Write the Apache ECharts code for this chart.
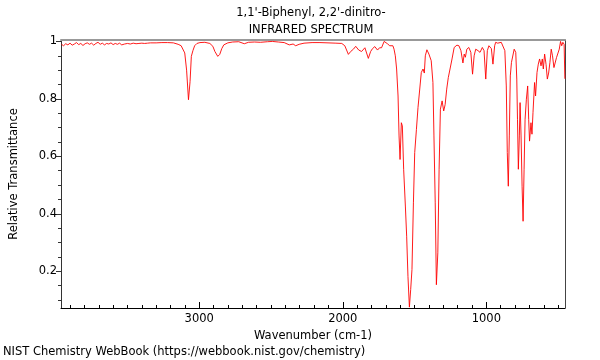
<!DOCTYPE html>
<html>
<head>
<meta charset="utf-8">
<script src="https://cdn.jsdelivr.net/npm/echarts@6/dist/echarts.min.js"></script>
<style>html,body{margin:0;padding:0;background:#fff}#c{width:600px;height:360px}</style>
</head>
<body>
<div id="c"></div>
<script>
var wavenumbers = [3960,3945,3930,3915,3900,3885,3870,3855,3840,3825,3810,3795,3780,3765,3750,3735,3720,3705,3690,3675,3660,3645,3630,3615,3600,3585,3570,3555,3540,3520,3500,3480,3460,3440,3420,3400,3380,3360,3340,3300,3260,3220,3180,
3147,3126,3101,3088,3075,3064,3055,3044,3032,3016,2995,2961,2926,2905,2891,2871,2857,2843,2829,2801,2767,2725,2686,2657,2615,2574,2525,2491,2449,2408,2373,2346,2328,2304,2270,2214,2159,2103,2048,2007,
1986,1961,1945,1926,1910,1889,1869,1846,1822,1806,1793,1777,1758,1744,1730,1712,1703,1689,1673,1661,1651,1643,1634,1625,1615,1608,1601,1592,1585,1576,1564,1555,1546,1536,1527,1518,1508,1499,1487,1476,1467,1453,1441,1432,1425,1414,1400,1384,1372,1365,1356,1348,1338,1329,1320,1308,1297,1287,1276,1265,1253,1239,1224,1205,1191,1177,1163,1154,1146,1136,1122,1108,1096,1085,1074,1058,1044,1028,1016,1004,993,982,965,954,942,935,921,908,896,885,871,861,854,847,840,833,825,816,806,795,788,783,777,770,765,758,751,744,737,730,721,712,705,699,689,682,675,664,657,647,638,629,619,610,603,594,584,575,566,557,548,539,529,520,511,501,492,483,475,467,458,453];
var transmittance = [0.990,0.985,0.992,0.988,0.994,0.987,0.991,0.996,0.989,0.993,0.986,0.992,0.995,0.990,0.994,0.987,0.993,0.997,0.990,0.994,0.988,0.993,0.991,0.995,0.989,0.993,0.990,0.994,0.988,0.991,0.993,0.991,0.994,0.992,0.993,0.994,0.993,0.994,0.995,0.995,0.996,0.996,0.995,
0.990,0.985,0.960,0.900,0.797,0.860,0.948,0.968,0.985,0.993,0.996,0.997,0.993,0.983,0.965,0.948,0.955,0.975,0.988,0.995,0.998,0.999,0.992,0.997,0.998,0.997,0.999,1.000,0.998,0.996,0.988,0.991,0.985,0.990,0.994,0.996,0.996,0.995,0.994,0.993,
0.985,0.955,0.965,0.973,0.983,0.970,0.965,0.978,0.941,0.965,0.975,0.982,0.970,0.978,0.978,1.000,0.997,0.992,0.985,0.979,0.985,0.973,0.950,0.904,0.810,0.671,0.589,0.717,0.706,0.555,0.427,0.322,0.182,0.075,0.136,0.206,0.438,0.613,0.694,0.770,0.775,0.892,0.904,0.890,0.950,0.971,0.956,0.933,0.857,0.671,0.438,0.153,0.264,0.555,0.764,0.793,0.758,0.780,0.834,0.874,0.904,0.939,0.979,0.987,0.985,0.968,0.925,0.956,0.945,0.973,0.979,0.962,0.886,0.950,0.973,0.968,0.962,0.979,0.968,0.869,0.968,0.985,0.975,0.921,0.985,0.997,0.994,0.992,0.997,0.994,0.968,0.845,0.613,0.496,0.671,0.880,0.927,0.930,0.973,0.962,0.869,0.729,0.555,0.671,0.787,0.671,0.496,0.374,0.555,0.729,0.799,0.845,0.729,0.653,0.717,0.677,0.752,0.857,0.810,0.892,0.921,0.939,0.915,0.939,0.904,0.956,0.920,0.869,0.890,0.927,0.973,0.950,0.909,0.905,0.944,0.950,0.973,1.000,0.985,0.997,0.990,0.870];
var xMajorTicks = [1000,2000,3000];
var xMinorTicks = [500,600,700,800,900,1100,1200,1300,1400,1500,1600,1700,1800,1900,2100,2200,2300,2400,2500,2600,2700,2800,2900,3100,3200,3300,3400,3500,3600,3700,3800,3900];
var yMajorTicks = [0.2,0.4,0.6,0.8,1];
var yMinorTicks = [0.1,0.15,0.25,0.3,0.35,0.45,0.5,0.55,0.65,0.7,0.75,0.85,0.9,0.95];

var X_MIN = 452, X_MAX = 3963, Y_MIN = 0.072, Y_MAX = 1.005;
var FONT = 'DejaVu Sans';
var FS = 11.5;
var data = wavenumbers.map(function(w,i){return [w, transmittance[i]];});

var chart = echarts.init(document.getElementById('c'), null, {renderer:'canvas'});
chart.setOption({
  animation:false,
  backgroundColor:'#fff',
  title:{
    text:"1,1'-Biphenyl, 2,2'-dinitro-\nINFRARED SPECTRUM",
    left:306, top:0, textAlign:'center',
    textStyle:{fontFamily:FONT,fontSize:FS,fontWeight:'normal',color:'#000',lineHeight:17}
  },
  graphic:[{type:'text',left:3,top:346,style:{text:'NIST Chemistry WebBook (https://webbook.nist.gov/chemistry)',font:FS+'px "DejaVu Sans"',fill:'#000'}}],
  grid:{left:57,right:35,top:40,bottom:52,containLabel:false},
  xAxis:[
    {type:'value',min:X_MIN,max:X_MAX,inverse:true,position:'bottom',
     name:'Wavenumber (cm-1)',nameLocation:'middle',nameGap:18,
     nameTextStyle:{fontFamily:FONT,fontSize:FS,color:'#000'},
     axisLine:{show:true,lineStyle:{color:'#000',width:1}},
     axisTick:{show:true,inside:true,length:6,customValues:xMajorTicks,lineStyle:{color:'#000'}},
     axisLabel:{show:true,customValues:xMajorTicks,fontFamily:FONT,fontSize:FS,color:'#000',margin:5,
       formatter:function(v){return String(v);}},
     splitLine:{show:false}},
    {type:'value',min:X_MIN,max:X_MAX,inverse:true,position:'bottom',
     axisLine:{show:false},
     axisTick:{show:true,inside:true,length:3,customValues:xMinorTicks,lineStyle:{color:'#000'}},
     axisLabel:{show:false},splitLine:{show:false}},
    {type:'value',min:X_MIN,max:X_MAX,inverse:true,position:'top',
     axisLine:{show:true,lineStyle:{color:'#999',width:2}},
     axisTick:{show:false},axisLabel:{show:false},splitLine:{show:false}}
  ],
  yAxis:[
    {type:'value',min:Y_MIN,max:Y_MAX,position:'left',
     name:'Relative Transmittance',nameLocation:'middle',nameGap:41,nameRotate:90,
     nameTextStyle:{fontFamily:FONT,fontSize:FS,color:'#000'},
     axisLine:{show:true,lineStyle:{color:'#333',width:1}},
     axisTick:{show:true,inside:false,length:5,customValues:yMajorTicks,lineStyle:{color:'#333'}},
     axisLabel:{show:true,customValues:yMajorTicks,fontFamily:FONT,fontSize:FS,color:'#000',margin:4,
       formatter:function(v){return Math.abs(v-1)<1e-9?'1':String(Math.round(v*10)/10);}},
     splitLine:{show:false}},
    {type:'value',min:Y_MIN,max:Y_MAX,position:'left',
     axisLine:{show:false},
     axisTick:{show:true,inside:false,length:3,customValues:yMinorTicks,lineStyle:{color:'#333'}},
     axisLabel:{show:false},splitLine:{show:false}},
    {type:'value',min:Y_MIN,max:Y_MAX,position:'right',
     axisLine:{show:true,lineStyle:{color:'#444',width:1}},
     axisTick:{show:false},axisLabel:{show:false},splitLine:{show:false}}
  ],
  series:[{
    type:'line',xAxisIndex:0,yAxisIndex:0,data:data,showSymbol:false,symbol:'none',
    lineStyle:{color:'#ff0000',width:0.9},clip:true,z:1
  }]
});
</script>
</body>
</html>
